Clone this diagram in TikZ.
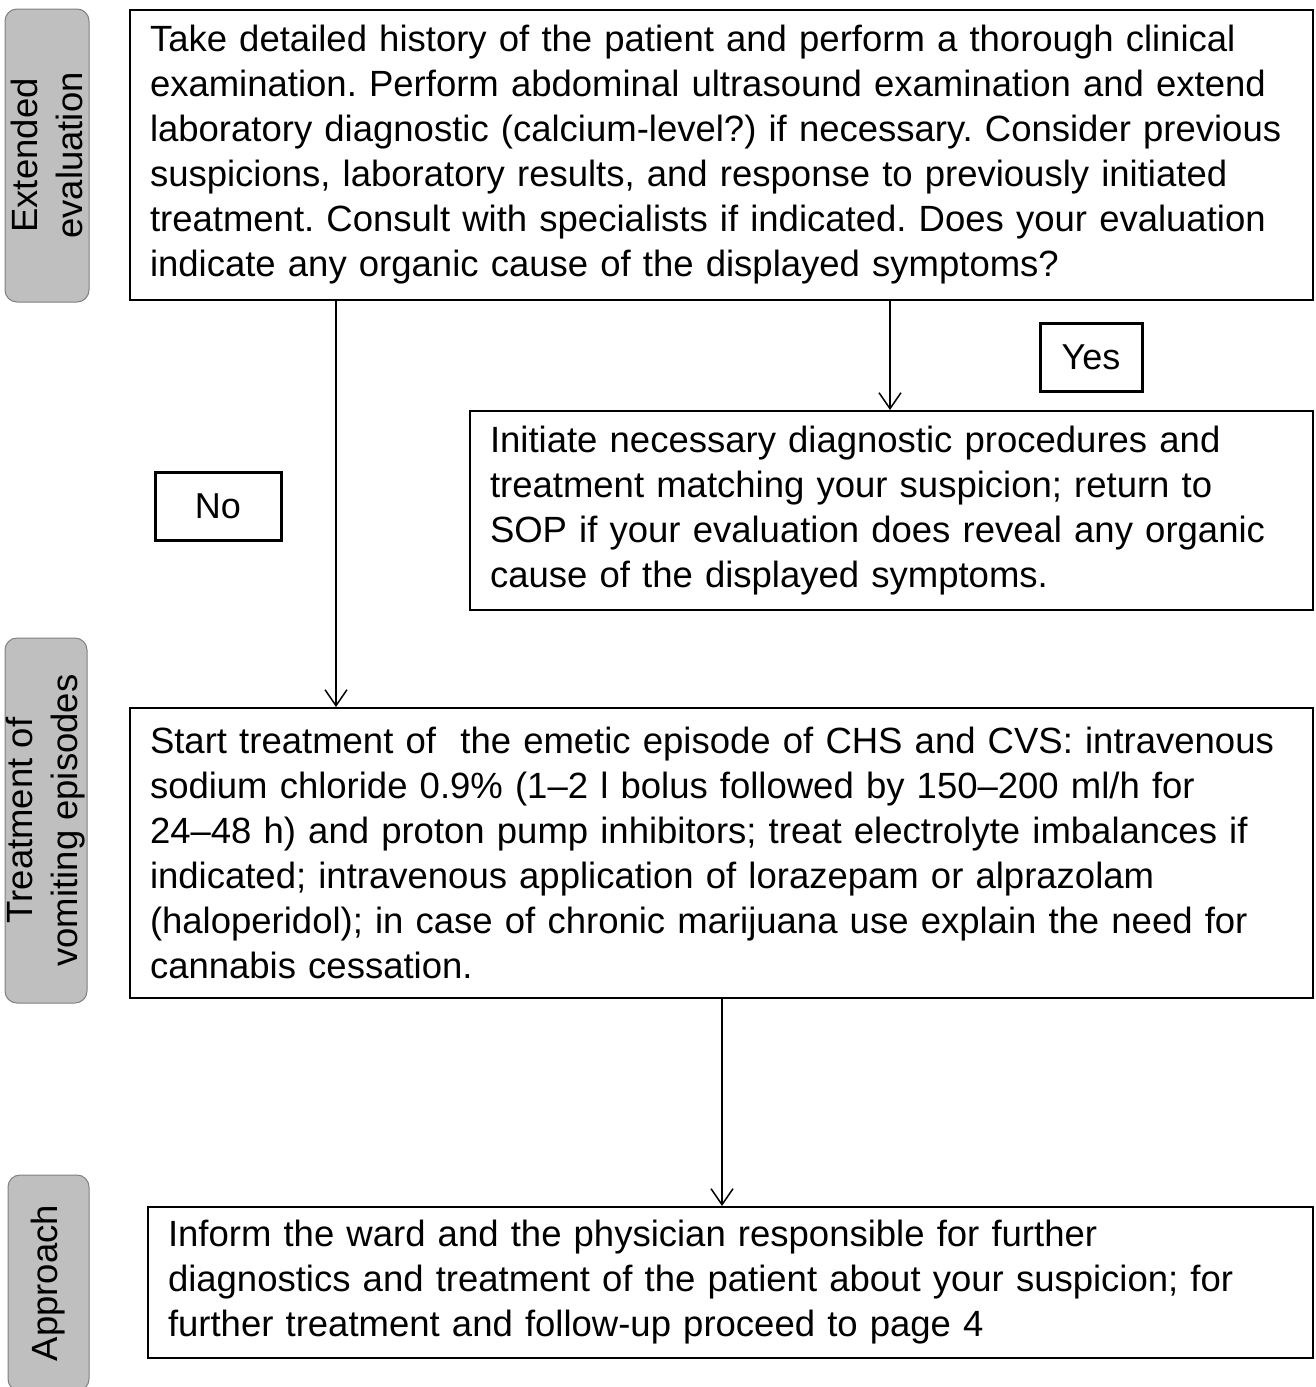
\documentclass[tikz,border=0pt]{standalone}
\usepackage{fontspec}
\setmainfont{Liberation Sans}
\usetikzlibrary{arrows.meta}
\newcommand\mytxtfont{\fontsize{36.5}{45}\selectfont\hyphenpenalty=10000\relax}
\begin{document}
\frenchspacing
\begin{tikzpicture}[x=1pt,y=-1pt,
  txt/.style={font=\mytxtfont},
  mainbox/.style={draw=black, line width=2pt, txt, align=left, inner sep=0pt, anchor=center},
  sidebox/.style={draw=black!50, fill=black!25, line width=1pt, rounded corners=12pt, rotate=90, txt, align=center, inner sep=0pt},
  ansbox/.style={draw=black, line width=3pt, font=\fontsize{36}{45}\selectfont, inner sep=0pt, align=center},
  arr/.style={line width=1.5pt, -{Straight Barb[length=16pt,width=22pt,line width=1.5pt]}}]
\useasboundingbox (0,0) rectangle (1316,1387);
\clip (0,0) rectangle (1316,1387);
% side labels
\node[sidebox, minimum width=293pt, minimum height=84pt] (s1) at (47,155.5) {Extended\\evaluation};
\node[sidebox, minimum width=365pt, minimum height=82pt] (s2) at (46,820.5) {Treatment of\\vomiting episodes};
\node[sidebox, minimum width=216pt, minimum height=81pt] (s3) at (48.5,1283) {Approach};
% main boxes
\node[mainbox, minimum width=1183pt, minimum height=290pt, text width=1143pt] (b1) at (721.5,155) {Take detailed history of the patient and perform a thorough clinical\\examination. Perform abdominal ultrasound examination and extend\\laboratory diagnostic (calcium-level?) if necessary. Consider previous\\suspicions, laboratory results, and response to previously initiated\\treatment. Consult with specialists if indicated. Does your evaluation\\indicate any organic cause of the displayed symptoms?};
\node[mainbox, minimum width=843pt, minimum height=199pt, text width=803pt] (b2) at (891.5,510.5) {Initiate necessary diagnostic procedures and\\treatment matching your suspicion; return to\\SOP if your evaluation does reveal any organic\\cause of the displayed symptoms.};
\node[mainbox, minimum width=1183pt, minimum height=290pt, text width=1143pt] (b3) at (721.5,853) {Start treatment of\ \ the emetic episode of CHS and CVS: intravenous\\sodium chloride 0.9\% (1–2 l bolus followed by 150–200 ml/h for\\24–48 h) and proton pump inhibitors; treat electrolyte imbalances if\\indicated; intravenous application of lorazepam or alprazolam\\(haloperidol); in case of chronic marijuana use explain the need for\\cannabis cessation.};
\node[mainbox, minimum width=1165pt, minimum height=151pt, text width=1125pt] (b4) at (730.5,1282.5) {Inform the ward and the physician responsible for further\\diagnostics and treatment of the patient about your suspicion; for\\further treatment and follow-up proceed to page 4};
% answer labels
\node[ansbox, minimum width=102pt, minimum height=68pt] (yes) at (1091,357) {Yes};
\node[ansbox, minimum width=126pt, minimum height=68pt] (no) at (218,506) {No};
% connectors
\coordinate (cno) at (336,0);
\coordinate (cyes) at (890,0);
\coordinate (cnext) at (722,0);
\draw[arr] (b1.south -| cno) -- (b3.north -| cno);
\draw[arr] (b1.south -| cyes) -- (b2.north -| cyes);
\draw[arr] (b3.south -| cnext) -- (b4.north -| cnext);
\end{tikzpicture}
\end{document}
